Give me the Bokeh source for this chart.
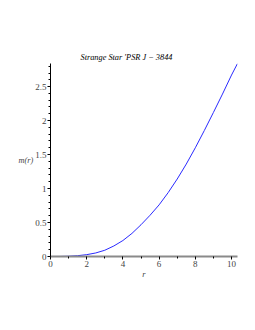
from bokeh.plotting import figure
from bokeh.models import Range1d, FixedTicker, Title
from bokeh.embed import file_html
from bokeh.resources import INLINE

r_vals = [0, 0.5, 1, 1.5, 2, 2.5, 3, 3.5, 4, 4.5, 5, 5.5, 6, 6.5, 7, 7.5, 8, 8.5, 9, 9.5, 10, 10.33]
m_vals = [0, 0.0005, 0.004, 0.012, 0.027, 0.052, 0.092, 0.155, 0.235, 0.34, 0.467, 0.607, 0.76, 0.94, 1.14, 1.36, 1.60, 1.855, 2.12, 2.39, 2.67, 2.84]

x_ticks = [0, 2, 4, 6, 8, 10]
y_ticks = [0, 0.5, 1, 1.5, 2, 2.5]
x_minor = [1, 3, 5, 7, 9]
y_minor = [round(0.1 * i, 1) for i in range(0, 29)]

title_text = "Strange Star 'PSR J \u2212 3844"
x_label = "r"
y_label = "m(r)"

SERIF = "Liberation Serif"

p = figure(width=247, height=322, output_backend="svg", toolbar_location=None,
           x_range=Range1d(0, 10.33), y_range=Range1d(0, 2.84),
           min_border_left=50, min_border_right=10, min_border_top=63, min_border_bottom=66,
           frame_width=187, frame_height=193)
p.outline_line_color = None
p.xgrid.visible = False
p.ygrid.visible = False
p.background_fill_color = "white"
p.border_fill_color = "white"

t = Title(text=title_text, align="left", offset=30, text_font=SERIF,
          text_font_style="italic", text_font_size="8.3px", text_color="black", standoff=3)
p.add_layout(t, "above")

p.line(r_vals, m_vals, line_color="#2a2aff", line_width=1)

xa = p.xaxis[0]
xa.ticker = FixedTicker(ticks=x_ticks, minor_ticks=x_minor)
xa.axis_line_color = "#8a8a8a"
xa.axis_line_width = 2
xa.major_tick_out = 3
xa.major_tick_in = 0
xa.minor_tick_out = 2
xa.minor_tick_in = 0
xa.major_label_text_font = SERIF
xa.major_label_text_font_size = "9px"
xa.major_label_standoff = 1
xa.axis_label = x_label
xa.axis_label_text_font = SERIF
xa.axis_label_text_font_style = "italic"
xa.axis_label_text_font_size = "8.5px"
xa.axis_label_standoff = -1

ya = p.yaxis[0]
ya.ticker = FixedTicker(ticks=y_ticks, minor_ticks=y_minor)
ya.major_label_overrides = {0: "0", 1: "1", 2: "2"}
ya.axis_line_color = "black"
ya.axis_line_width = 1
ya.major_tick_out = 3
ya.major_tick_in = 0
ya.minor_tick_out = 2
ya.minor_tick_in = 0
ya.major_label_text_font = SERIF
ya.major_label_text_font_size = "9px"
ya.major_label_standoff = 1
ya.axis_label = y_label
ya.axis_label_orientation = "horizontal"
ya.axis_label_text_font = SERIF
ya.axis_label_text_font_style = "italic"
ya.axis_label_text_font_size = "8.3px"
ya.axis_label_standoff = -1

open("out.html", "w").write(file_html(p, INLINE))
